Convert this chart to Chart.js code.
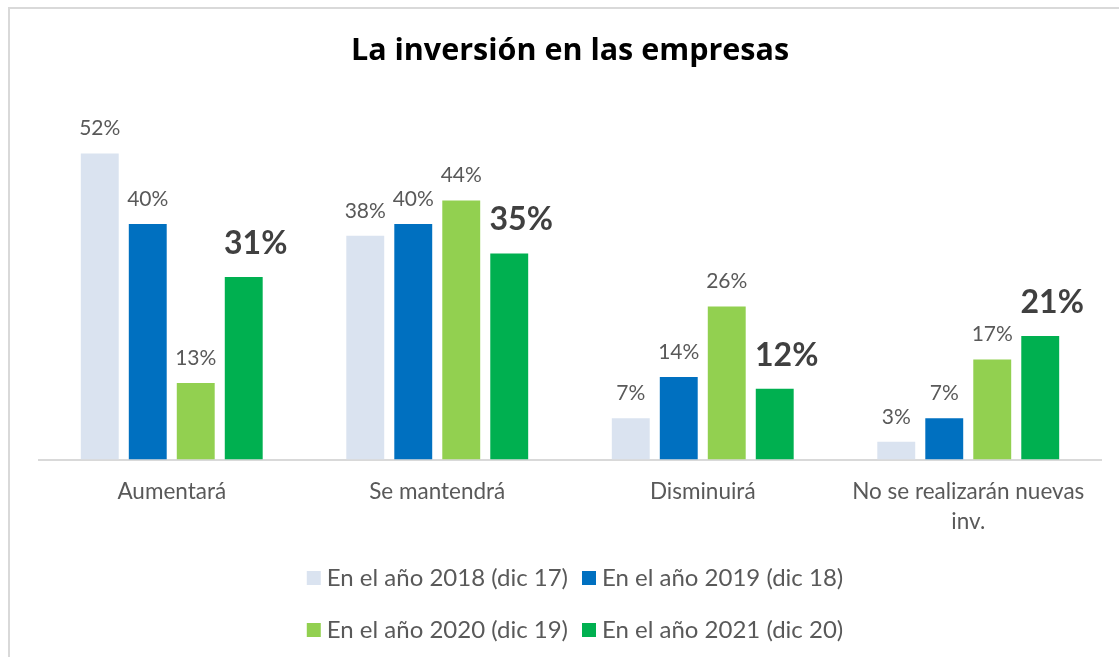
<!DOCTYPE html>
<html>
<head>
<meta charset="utf-8">
<title>La inversión en las empresas</title>
<script src="https://cdn.jsdelivr.net/npm/chart.js@4.4.1/dist/chart.umd.min.js"></script>
<style>
  html, body { margin: 0; padding: 0; background: #fff; overflow: hidden; }
  #wrap { position: relative; width: 1119px; height: 657px; }
  #frame {
    position: absolute; left: 8px; top: 7px; width: 1300px; height: 800px;
    border-top: 2px solid #d9d9d9; border-left: 2px solid #d9d9d9;
    pointer-events: none;
  }
</style>
</head>
<body>
<div id="wrap">
  <canvas id="inversion"></canvas>
  <div id="frame"></div>
</div>
<script>
const categories = [
  "Aumentará",
  "Se mantendrá",
  "Disminuirá",
  ["No se realizarán nuevas", "inv."],
];
const seriesNames = [
  "En el año 2018 (dic 17)",
  "En el año 2019 (dic 18)",
  "En el año 2020 (dic 19)",
  "En el año 2021 (dic 20)",
];
const values2018 = [52, 38, 7, 3];
const values2019 = [40, 40, 14, 7];
const values2020 = [13, 44, 26, 17];
const values2021 = [31, 35, 12, 21];
const colors = ["#dae3f0", "#0070c0", "#92d050", "#00b050"];

const FONT = "Lato, 'Open Sans', sans-serif";

// etiquetas de valor encima de cada barra (la última serie en negrita)
const valueLabels = {
  id: "valueLabels",
  afterDatasetsDraw(chart) {
    const ctx = chart.ctx;
    ctx.save();
    ctx.textAlign = "center";
    ctx.textBaseline = "alphabetic";
    chart.data.datasets.forEach((ds, i) => {
      const meta = chart.getDatasetMeta(i);
      const last = i === chart.data.datasets.length - 1;
      ctx.font = last ? "bold 32px " + FONT : "21px " + FONT;
      ctx.fillStyle = last ? "#404040" : "#595959";
      meta.data.forEach((bar, j) => {
        const dx = last ? 12 : 0;
        ctx.fillText(ds.data[j] + "%", bar.x + dx, bar.y - (last ? 23 : 18));
      });
    });
    ctx.restore();
  },
};

// leyenda en dos filas
const twoRowLegend = {
  id: "twoRowLegend",
  afterDraw(chart) {
    const ctx = chart.ctx;
    const rows = [[0, 1], [2, 3]];
    const rowY = [578, 630];
    const box = 14;
    const cx = (chart.chartArea.left + chart.chartArea.right) / 2 + 5;
    ctx.save();
    ctx.font = "24px " + FONT;
    ctx.textBaseline = "middle";
    ctx.textAlign = "left";
    rows.forEach((row, r) => {
      let total = 0;
      row.forEach((i, k) => {
        total += box + 6 + ctx.measureText(seriesNames[i]).width;
        if (k > 0) total += 14;
      });
      let x = cx - total / 2;
      row.forEach((i) => {
        ctx.fillStyle = colors[i];
        ctx.fillRect(x, rowY[r] - box / 2, box, box);
        x += box + 6;
        ctx.fillStyle = "#595959";
        ctx.fillText(seriesNames[i], x, rowY[r]);
        x += ctx.measureText(seriesNames[i]).width + 14;
      });
    });
    ctx.restore();
  },
};

const data = {
  labels: categories,
  datasets: [values2018, values2019, values2020, values2021].map((vals, i) => ({
    label: seriesNames[i],
    data: vals,
    backgroundColor: colors[i],
    borderWidth: 0,
    barPercentage: 0.79,
    categoryPercentage: 0.723,
  })),
};

const config = {
  type: "bar",
  data: data,
  options: {
    responsive: true,
    maintainAspectRatio: false,
    animation: false,
    layout: {
      padding: { left: 39, right: 18, top: 0, bottom: 103 },
    },
    plugins: {
      legend: { display: false },
      tooltip: { enabled: false },
      title: {
        display: true,
        text: "La inversión en las empresas",
        color: "#000",
        font: { family: "'Open Sans', sans-serif", size: 30.5, weight: "bold", lineHeight: 1.2 },
        padding: { top: 33, bottom: 36.7 },
      },
    },
    scales: {
      x: {
        grid: { display: false, drawTicks: false },
        border: { color: "#d9d9d9", width: 2 },
        ticks: {
          color: "#595959",
          padding: 18,
          maxRotation: 0,
          font: { family: FONT, size: 22.5, lineHeight: 1.3 },
        },
      },
      y: {
        display: false,
        min: 0,
        max: 60,
      },
    },
  },
  plugins: [valueLabels, twoRowLegend],
};

const inversionCtx = document.getElementById("inversion").getContext("2d");
let chart = new Chart(inversionCtx, config);
</script>
</body>
</html>
